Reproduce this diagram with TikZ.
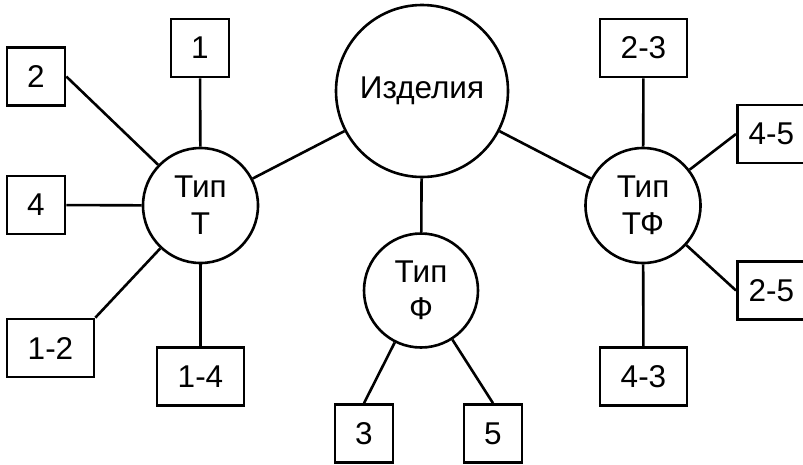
\documentclass[tikz,border=0pt]{standalone}
\usepackage{fontspec}
\setmainfont{Liberation Sans}

\begin{document}
\begin{tikzpicture}[x=1pt,y=-1pt,
    every node/.style={font=\fontsize{31.5}{37}\selectfont},
    numbox/.style={draw, line width=2.6pt, inner sep=0pt, minimum height=58pt},
    narrow/.style={numbox, minimum width=58pt},
    wide/.style={numbox, minimum width=87pt},
    typecircle/.style={draw, circle, line width=2.6pt, inner sep=0pt, align=center},
    link/.style={line width=2.6pt}]
  \useasboundingbox (0,0) rectangle (803,464);

  % root and the three types
  \node[typecircle, minimum size=172pt] (root) at (422,91) {Изделия};
  \node[typecircle, minimum size=115pt] (tT) at (200.5,205.5) {Тип\\Т};
  \node[typecircle, minimum size=114pt] (tF) at (421,290.5) {Тип\\Ф};
  \node[typecircle, minimum size=115pt] (tTF) at (643,205.5) {Тип\\ТФ};

  % leaves of type T
  \node[narrow] (b1) at (200,48) {1};
  \node[narrow] (b2) at (36,76.5) {2};
  \node[narrow] (b4) at (36,205) {4};
  \node[wide] (b12) at (50.5,348) {1-2};
  \node[wide] (b14) at (200.5,376.5) {1-4};

  % leaves of type F
  \node[narrow] (b3) at (364,433.5) {3};
  \node[narrow] (b5) at (493,433.5) {5};

  % leaves of type TF
  \node[wide] (b23) at (643.5,48) {2-3};
  \node[wide] (b43) at (643.5,376.5) {4-3};
  \node[numbox, minimum width=68pt, anchor=west] (b45) at (736,134) {4-5};
  \node[numbox, minimum width=68pt, anchor=west] (b25) at (736,290.5) {2-5};

  \draw[link] (root) -- (tT);
  \draw[link] (root) -- (tF);
  \draw[link] (root) -- (tTF);

  \draw[link] (b1) -- (tT);
  \draw[link] (b2.east) -- (tT);
  \draw[link] (b4) -- (tT);
  \draw[link] (b12.north east) -- (tT);
  \draw[link] (b14) -- (tT);

  \draw[link] (b3.north) -- (tF);
  \draw[link] (b5.north) -- (tF);

  \draw[link] (b23) -- (tTF);
  \draw[link] (b43) -- (tTF);
  \draw[link] (b45.west) -- (tTF);
  \draw[link] (b25.west) -- (tTF);
\end{tikzpicture}
\end{document}
